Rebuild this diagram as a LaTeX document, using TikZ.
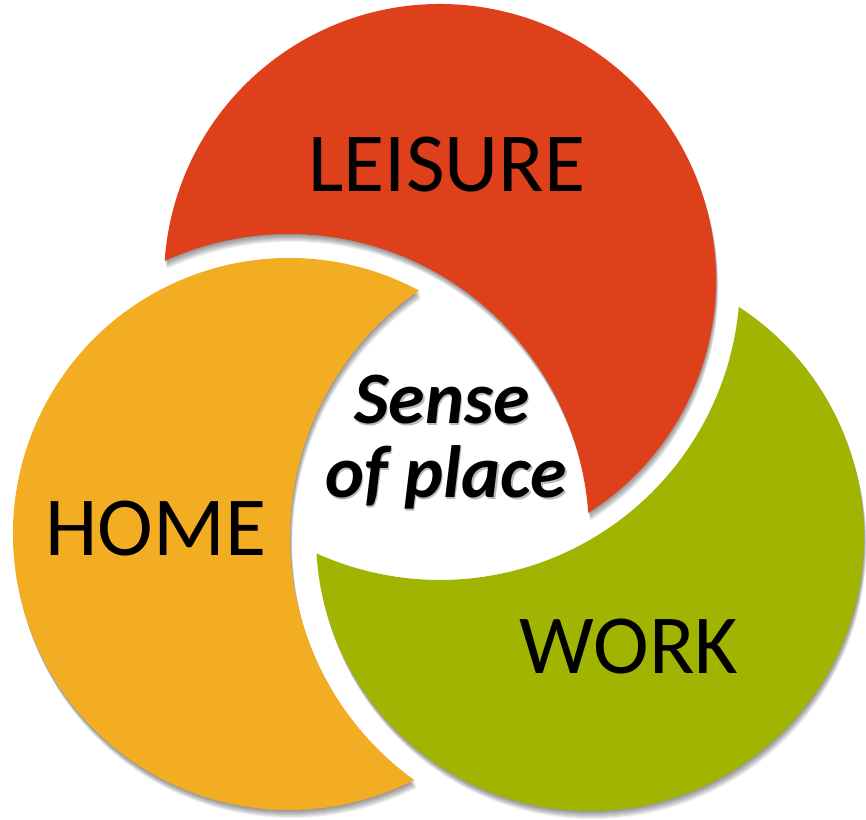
\documentclass[tikz,border=0pt]{standalone}
\usepackage{fontspec}
\setmainfont{Carlito}
\definecolor{leis}{HTML}{DD401B}
\definecolor{home}{HTML}{F2AD22}
\definecolor{work}{HTML}{A2B402}
% crescent outlines: outer arc of own circle, inner arc of the neighbouring (enlarged) circle
\newcommand\leispath{(440,539) ++(302.49:276) arc[start angle=302.49, end angle=536.05, radius=276] arc[start angle=114.49, end angle=4.05, radius=300] -- cycle}
\newcommand\homepath{(289,285) ++(61.90:276) arc[start angle=61.90, end angle=296.96, radius=276] arc[start angle=234.11, end angle=124.75, radius=300] -- cycle}
\newcommand\workpath{(590,282) ++(183.43:274) arc[start angle=183.43, end angle=417.11, radius=274] arc[start angle=354.85, end angle=245.69, radius=300] -- cycle}
\tikzset{
  biglabel/.style={anchor=base, font=\fontsize{84}{84}\selectfont, text=black, inner sep=0pt},
  centrelabel/.style={anchor=base, font=\fontsize{74}{74}\selectfont\bfseries\itshape, inner sep=0pt},
  shade layer/.style={fill=black, opacity=0.06}
}
\begin{document}
\begin{tikzpicture}[x=1pt,y=1pt]
\useasboundingbox (0,0) rectangle (866,819);
\fill[white] (0,0) rectangle (866,819);
% soft shadows
\foreach \k in {1,...,8}{
  \begin{scope}[shift={(0.3*\k,-1.0*\k)}]
    \fill[shade layer] \leispath;
    \fill[shade layer] \homepath;
    \fill[shade layer] \workpath;
  \end{scope}
}
% shapes
\fill[leis] \leispath;
\fill[home] \homepath;
\fill[work] \workpath;
% labels
\node[biglabel] (leisure) at (447,627) {LEISURE};
\node[biglabel] (home) at (156,263) {HOME};
\node[biglabel] (work) at (629,146) {WORK};
\node[centrelabel, text=black!45, opacity=0.6] (sshadow) at (443.5,393.5) {Sense};
\node[centrelabel, text=black!45, opacity=0.6] (pshadow) at (447.5,319.5) {of place};
\node[centrelabel, text=black] (sense) at (442,395) {Sense};
\node[centrelabel, text=black] (place) at (446,321) {of place};
\end{tikzpicture}
\end{document}
